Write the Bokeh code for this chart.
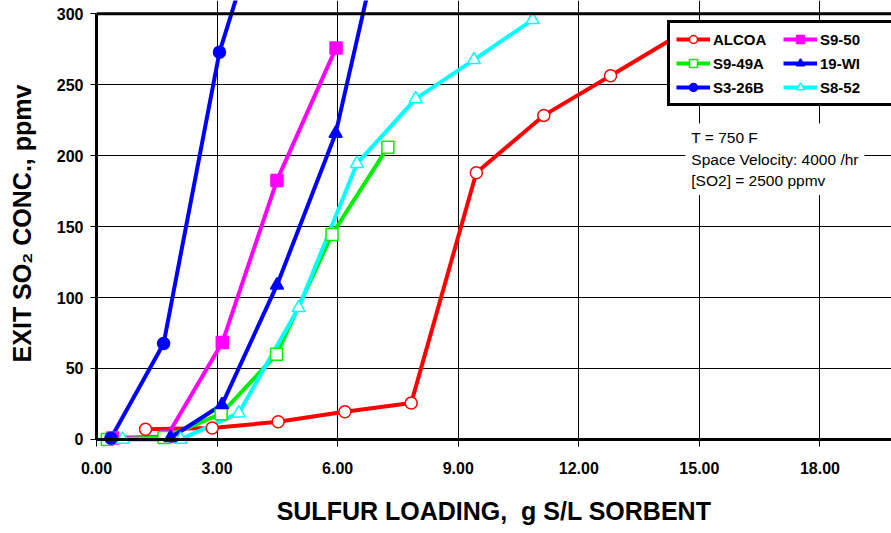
from bokeh.plotting import figure
from bokeh.models import (Range1d, FixedTicker, PrintfTickFormatter, Span, Legend,
                          LegendItem, Label)
from bokeh.embed import file_html
from bokeh.resources import INLINE

# Sulfur loading (g S / L sorbent) and exit SO2 concentration (ppmv) for each sorbent
alcoa_x = [1.22, 2.88, 4.52, 6.18, 7.83, 9.45, 11.13, 12.79, 14.6]
alcoa_y = [7.2, 8.0, 12.4, 19.5, 25.6, 188.0, 228.4, 256.3, 287.0]

s950_x = [0.40, 1.75, 3.13, 4.49, 5.96]
s950_y = [1.0, 2.0, 68.3, 182.6, 276.0]

s949a_x = [0.27, 1.68, 3.10, 4.48, 5.86, 7.25]
s949a_y = [0.0, 1.3, 18.0, 60.0, 144.5, 206.0]

wi19_x = [1.84, 3.12, 4.49, 5.95, 6.95]
wi19_y = [1.2, 24.4, 108.7, 215.7, 340.0]

s326b_x = [0.36, 1.67, 3.06, 3.85]
s326b_y = [0.8, 67.6, 273.0, 345.0]

s852_x = [0.65, 2.09, 3.54, 5.03, 6.48, 7.94, 9.39, 10.85]
s852_y = [0.0, 0.0, 18.5, 92.8, 194.4, 240.0, 267.6, 295.8]

x_ticks = [0, 3, 6, 9, 12, 15, 18]
y_ticks = [0, 50, 100, 150, 200, 250, 300]

series = [
    # label, xs, ys, colour, marker, filled
    ("ALCOA", alcoa_x, alcoa_y, "#ff0000", "circle", False),
    ("S9-50", s950_x, s950_y, "#ff00ff", "square", True),
    ("S9-49A", s949a_x, s949a_y, "#00ee00", "square", False),
    ("S8-52", s852_x, s852_y, "#00ffff", "triangle", False),
    ("19-WI", wi19_x, wi19_y, "#0000ff", "triangle", True),
    ("S3-26B", s326b_x, s326b_y, "#0000ff", "circle", True),
]

p = figure(width=891, height=533, output_backend="svg", toolbar_location=None,
           x_range=Range1d(0, 19.78), y_range=Range1d(-5, 309.4),
           min_border_left=96, min_border_right=0, min_border_top=0,
           min_border_bottom=87)
p.outline_line_color = None
p.background_fill_color = "white"
p.border_fill_color = "white"

# grid
p.xgrid.ticker = FixedTicker(ticks=x_ticks[1:])
p.xgrid.bounds = (0, 300)
p.xgrid.grid_line_color = "#000000"
p.xgrid.grid_line_width = 1
p.ygrid.ticker = FixedTicker(ticks=y_ticks[1:-1])
p.ygrid.grid_line_color = "#000000"
p.ygrid.grid_line_width = 1

# frame lines
p.add_layout(Span(location=0, dimension="width", line_color="black", line_width=3))
p.add_layout(Span(location=300, dimension="width", line_color="black", line_width=3))

# x axis
xa = p.xaxis[0]
xa.ticker = FixedTicker(ticks=x_ticks)
xa.formatter = PrintfTickFormatter(format="%.2f")
xa.axis_line_color = None
xa.major_tick_in = 7
xa.major_tick_out = 0
xa.major_tick_line_color = "black"
xa.major_tick_line_width = 1
xa.minor_tick_line_color = None
xa.major_label_standoff = 15
xa.major_label_text_font = "Liberation Sans"
xa.major_label_text_font_style = "bold"
xa.major_label_text_font_size = "16px"
xa.major_label_text_color = "black"
xa.axis_label = "SULFUR LOADING,\u00a0 g S/L SORBENT"
xa.axis_label_text_font = "Liberation Sans"
xa.axis_label_text_font_style = "bold"
xa.axis_label_text_font_size = "25px"
xa.axis_label_text_color = "black"
xa.axis_label_standoff = 20

# y axis
ya = p.yaxis[0]
ya.ticker = FixedTicker(ticks=y_ticks)
ya.bounds = (0, 300)
ya.axis_line_width = 3
ya.axis_line_color = "black"
ya.major_tick_in = 0
ya.major_tick_out = 6
ya.major_tick_line_color = "black"
ya.minor_tick_line_color = None
ya.major_label_standoff = 7
ya.major_label_text_font = "Liberation Sans"
ya.major_label_text_font_style = "bold"
ya.major_label_text_font_size = "16px"
ya.major_label_text_color = "black"
ya.axis_label = "EXIT SO\u2082 CONC., ppmv"
ya.axis_label_text_font = "Liberation Sans"
ya.axis_label_text_font_style = "bold"
ya.axis_label_text_font_size = "25px"
ya.axis_label_text_color = "black"
ya.axis_label_standoff = 18

# curves first, markers on top
lines = {}
for name, xs, ys, color, marker, filled in series:
    lines[name] = p.line(xs, ys, line_color=color, line_width=4)
marks = {}
for name, xs, ys, color, marker, filled in series:
    size = 13 if marker == "triangle" else 12
    marks[name] = p.scatter(xs, ys, marker=marker, size=size, line_color=color,
                            line_width=1.5, fill_color=color if filled else "white")

order = ["ALCOA", "S9-49A", "S3-26B", "S9-50", "19-WI", "S8-52"]
legend = Legend(items=[LegendItem(label=n, renderers=[lines[n], marks[n]]) for n in order],
                ncols=2, location=(571, 340),
                border_line_color="black", border_line_width=3, border_line_alpha=1.0,
                background_fill_color="white", background_fill_alpha=1.0,
                label_text_font="Liberation Sans", label_text_font_style="bold",
                label_text_font_size="15px", label_text_color="black",
                glyph_width=34, glyph_height=20, label_standoff=3,
                label_width=66, label_height=20, spacing=4, padding=6, margin=0)
p.add_layout(legend)

note = Label(x=14.65, y=222.7, text="T = 750 F\nSpace Velocity: 4000 /hr\n[SO2] = 2500 ppmv",
             text_font="Liberation Sans", text_font_size="15.5px", text_color="black",
             text_align="left", text_baseline="top", text_line_height=1.25,
             background_fill_color="white", padding=6)
p.add_layout(note)

open("out.html", "w").write(file_html(p, INLINE))
